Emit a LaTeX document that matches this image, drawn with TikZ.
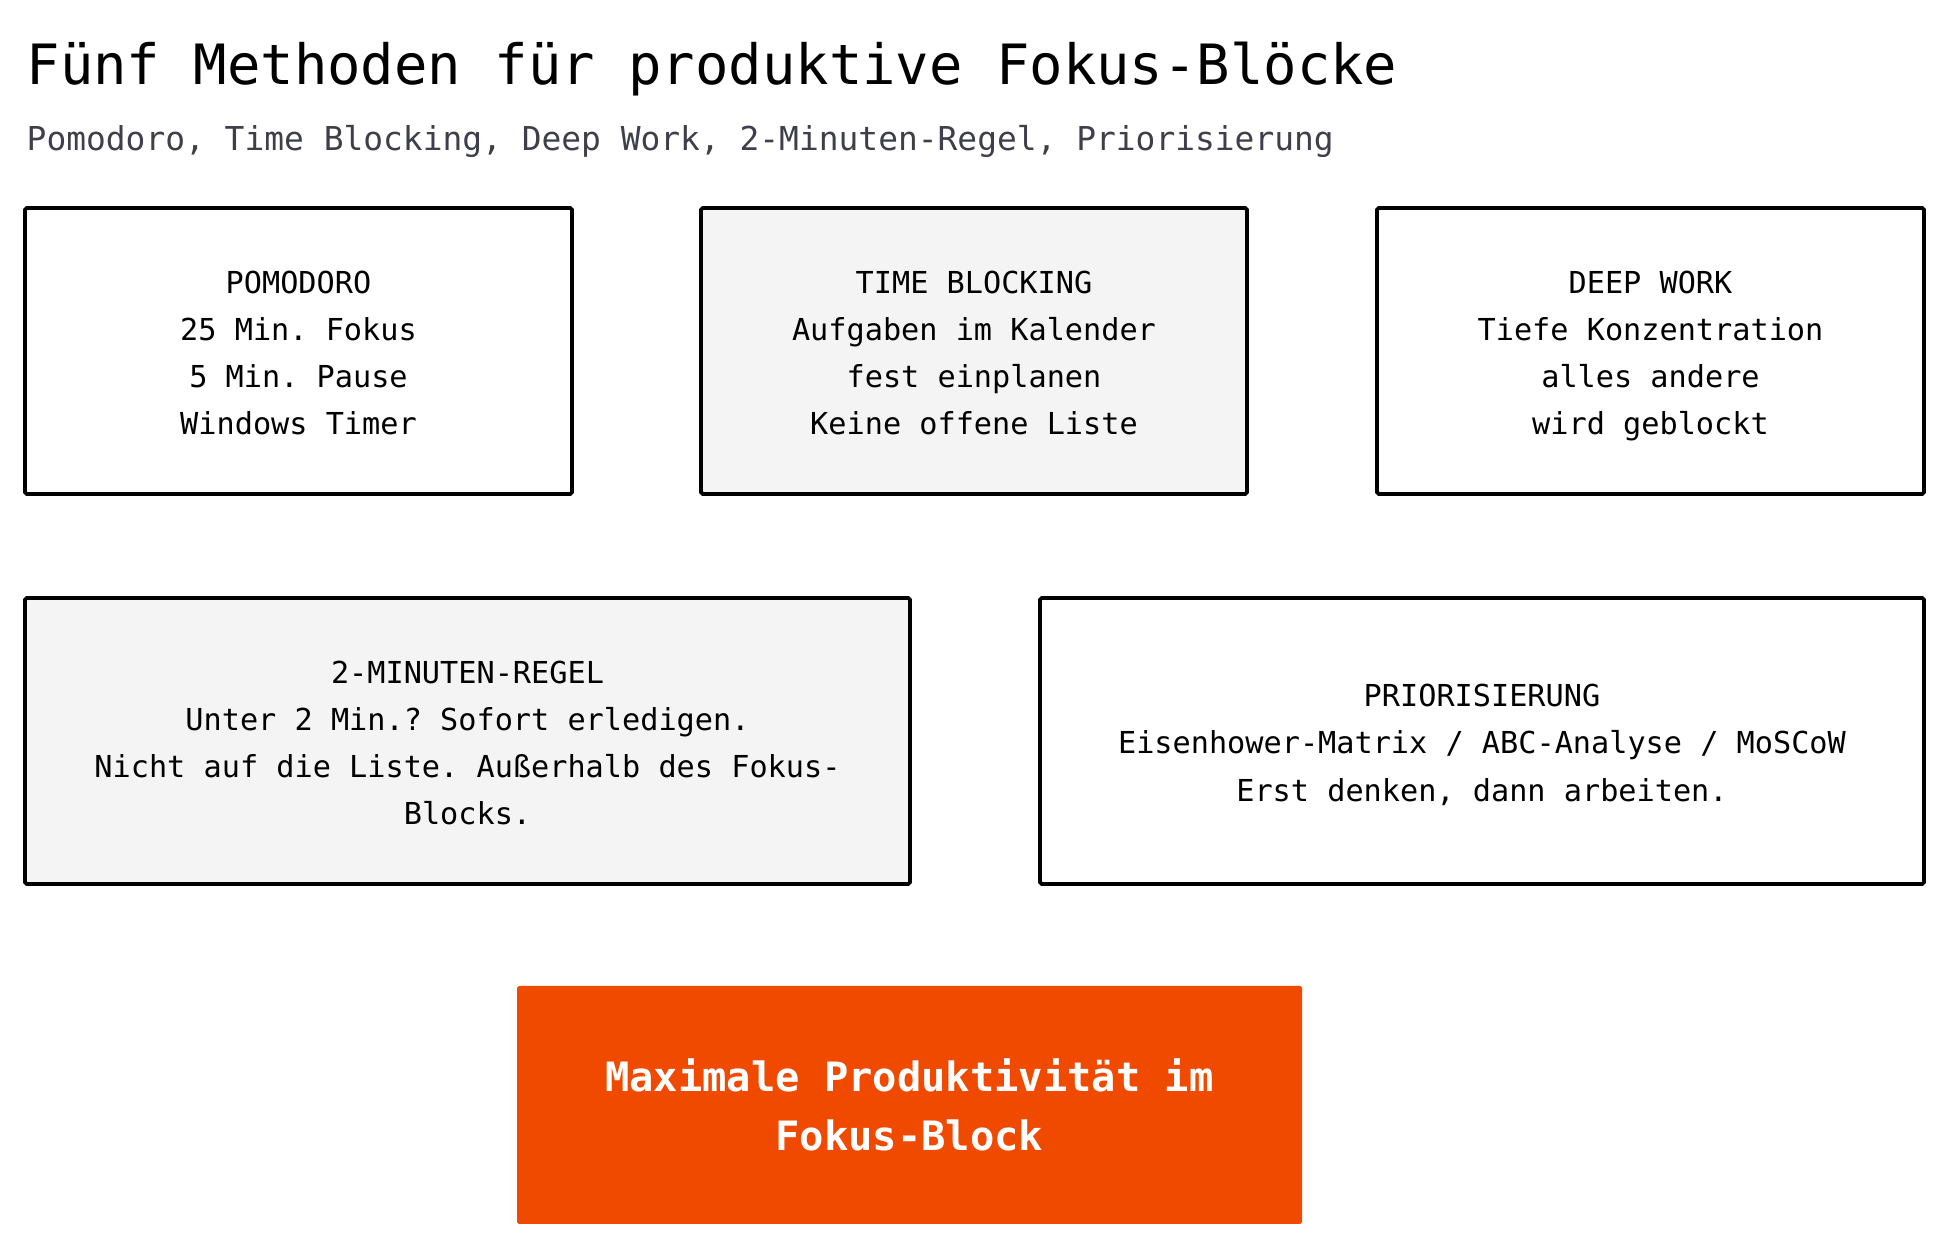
\documentclass[tikz,border=0pt]{standalone}
\usepackage{fontspec}
\setmainfont{DejaVu Sans Mono}
\setmonofont{DejaVu Sans Mono}
\definecolor{hellgrau}{HTML}{F4F4F4}
\definecolor{signal}{HTML}{F04A00}
\definecolor{untertitel}{HTML}{3E3F4A}
\frenchspacing
% gleiche Ober-/Unterlaenge fuer erste und letzte Zeile
\newcommand{\stuetze}{\rule[-1.7pt]{0pt}{10.8pt}}

\begin{document}
\begin{tikzpicture}[
  methode/.style={draw=black, line width=1.1pt, rounded corners=0.5pt, align=center, inner sep=0pt,
    minimum height=2.86cm, font=\fontsize{8.6}{13.4}\selectfont},
  hellbox/.style={methode, fill=hellgrau},
  zielbox/.style={fill=signal, rounded corners=0.5pt, align=center, inner sep=0pt, text=white,
    minimum width=7.85cm, minimum height=2.38cm, font=\fontsize{11.5}{16.6}\selectfont\bfseries},
  x=1cm, y=1cm
]
\useasboundingbox (0,0) rectangle (19.5,-12.48);

\node[anchor=base west, inner sep=0pt, font=\fontsize{15.8}{18}\selectfont] (titel) at (0.26,-0.85)
  {Fünf Methoden für produktive Fokus-Blöcke};
\node[anchor=base west, inner sep=0pt, text=untertitel, font=\fontsize{9.36}{12}\selectfont] (untertitel) at (0.26,-1.51)
  {Pomodoro, Time Blocking, Deep Work, 2-Minuten-Regel, Priorisierung};

\node[methode, minimum width=5.47cm] (pomodoro) at (2.985,-3.51) {\stuetze POMODORO\\25 Min. Fokus\\5 Min. Pause\\Windows Timer\stuetze};
\node[hellbox, minimum width=5.46cm] (blocking) at (9.74,-3.51) {\stuetze TIME BLOCKING\\Aufgaben im Kalender\\fest einplanen\\Keine offene Liste\stuetze};
\node[methode, minimum width=5.47cm] (deepwork) at (16.505,-3.51) {\stuetze DEEP WORK\\Tiefe Konzentration\\alles andere\\wird geblockt\stuetze};

\node[hellbox, minimum width=8.85cm] (zweimin) at (4.675,-7.41) {\stuetze 2-MINUTEN-REGEL\\Unter 2 Min.? Sofort erledigen.\\Nicht auf die Liste. Außerhalb des Fokus-\\Blocks.\stuetze};
\node[methode, minimum width=8.84cm] (prio) at (14.82,-7.41) {\stuetze PRIORISIERUNG\\Eisenhower-Matrix / ABC-Analyse / MoSCoW\\Erst denken, dann arbeiten.\stuetze};

\node[zielbox] (ziel) at (9.095,-11.05) {Maximale Produktivität im\\Fokus-Block};
\end{tikzpicture}
\end{document}
